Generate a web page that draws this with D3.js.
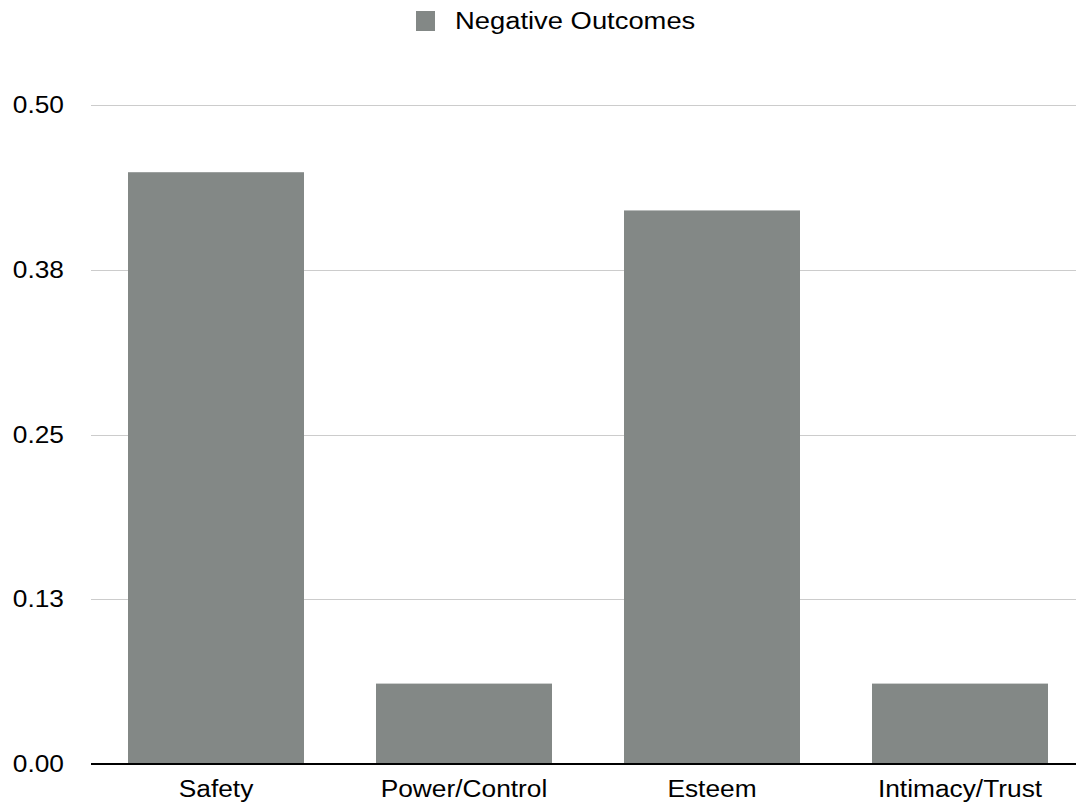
<!DOCTYPE html>
<html><head><meta charset="utf-8">
<script src="https://cdn.jsdelivr.net/npm/d3@7"></script>
<style>body{margin:0;background:#fff}svg{display:block;font-family:"Liberation Sans",Arial,sans-serif}</style>
</head><body><svg id="c" width="1076" height="806"></svg>
<script>
const categories = ["Safety", "Power/Control", "Esteem", "Intimacy/Trust"];
const values = [0.449, 0.061, 0.420, 0.061];
const seriesName = "Negative Outcomes";
const tickValues = [0, 0.125, 0.25, 0.375, 0.5];
const tickLabels = ["0.00", "0.13", "0.25", "0.38", "0.50"];

const svg = d3.select("#c");
const color = "#838886";
const fs = 23.5, sx = 1.12;
const x = d3.scaleBand().domain(categories).range([92, 1084]).paddingInner(72/248).paddingOuter(36/248);
const y = d3.scaleLinear().domain([0, 0.5]).range([764, 105]);

svg.append("g").selectAll("line").data(tickValues.slice(1)).join("line")
  .attr("x1", 91).attr("x2", 1076).attr("y1", d => Math.round(y(d)) + 0.5).attr("y2", d => Math.round(y(d)) + 0.5)
  .attr("stroke", "#cccccc").attr("stroke-width", 1);

svg.append("g").selectAll("text").data(tickValues).join("text")
  .attr("transform", d => `translate(64,${y(d) + 8}) scale(${sx},1)`).attr("text-anchor", "end")
  .attr("font-size", fs).attr("fill", "#000").text((d, i) => tickLabels[i]);

svg.append("g").selectAll("rect").data(values).join("rect")
  .attr("x", (d, i) => x(categories[i])).attr("width", x.bandwidth())
  .attr("y", d => y(d)).attr("height", d => y(0) - y(d)).attr("fill", color);

svg.append("line").attr("x1", 91).attr("x2", 1076).attr("y1", y(0)).attr("y2", y(0))
  .attr("stroke", "#000").attr("stroke-width", 2);

svg.append("g").selectAll("text").data(categories).join("text")
  .attr("transform", d => `translate(${x(d) + x.bandwidth() / 2},797) scale(${sx},1)`).attr("text-anchor", "middle")
  .attr("font-size", fs).attr("fill", "#000").text(d => d);

const lg = svg.append("g");
lg.append("rect").attr("x", 416).attr("y", 11).attr("width", 19).attr("height", 20).attr("fill", color);
lg.append("text").attr("transform", `translate(455,29) scale(${sx * 1.04},1)`).attr("font-size", fs).attr("fill", "#000").text(seriesName);
</script></body></html>
